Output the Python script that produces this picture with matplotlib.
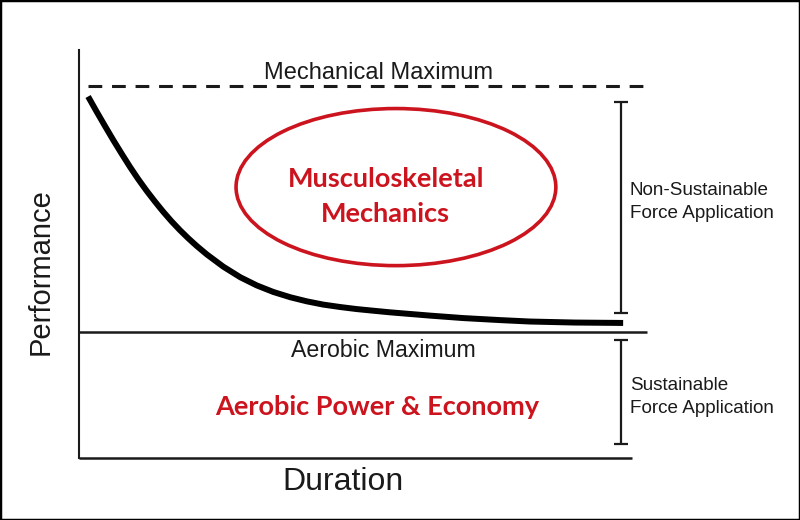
import matplotlib
matplotlib.use("Agg")
import matplotlib.pyplot as plt
from matplotlib.patches import Ellipse, Rectangle

# performance vs duration curve (duration 0-100, performance 0-100)
duration = [1.6, 3.1, 4.6, 6.0, 7.5, 9.0, 10.4, 11.9, 13.4, 14.8, 16.3, 17.8, 19.2,
            20.7, 22.5, 25.4, 28.4, 31.3, 34.2, 37.2, 40.1, 43.0, 46.0, 48.9, 51.8,
            54.8, 61.8, 67.6, 74.1, 79.4, 87.3, 95.8]
performance = [88.6, 84.9, 81.3, 78.0, 74.6, 71.3, 68.4, 65.5, 62.8, 60.4, 58.0, 55.8,
               53.9, 52.0, 49.9, 46.9, 44.3, 42.3, 40.7, 39.4, 38.4, 37.6, 37.0, 36.5,
               36.1, 35.7, 34.9, 34.3, 33.8, 33.45, 33.2, 33.1]

mechanical_max = 91.2
aerobic_max = 31.0

# vertical brackets on the right: (low, high)
bracket_x = 95.4
non_sustainable = (35.5, 87.3)
sustainable = (3.4, 28.9)

RED = "#cc141e"
INK = "#1a1a1a"
SANS = ["Liberation Sans", "DejaVu Sans"]
BOLD = ["Lato", "DejaVu Sans"]

fig = plt.figure(figsize=(8, 5.2), dpi=100)
fig.patches.append(Rectangle((0, 0), 1, 1, transform=fig.transFigure,
                             fill=False, edgecolor="black", linewidth=2.5))

ax = fig.add_axes([79 / 800, 1 - 458 / 520, 568 / 800, 408 / 520])
ax.set_xlim(0, 100)
ax.set_ylim(0, 100)
for side in ["top", "right", "bottom"]:
    ax.spines[side].set_visible(False)
ax.spines["left"].set_linewidth(1.5)
ax.spines["left"].set_color(INK)
ax.set_xticks([])
ax.set_yticks([])

# baseline (x axis) and the two maximum lines
ax.plot([0, 97.4], [0, 0], color=INK, lw=1.8, clip_on=False, solid_capstyle="butt")
ax.plot([0, 100], [aerobic_max, aerobic_max], color=INK, lw=1.8, clip_on=False,
        solid_capstyle="butt")
ax.plot([1.6, 100], [mechanical_max, mechanical_max], color=INK, lw=2.2,
        dashes=(4.5, 3.2), clip_on=False)

ax.plot(duration, performance, color="black", lw=4.3, solid_joinstyle="round",
        solid_capstyle="butt")

for lo, hi in [non_sustainable, sustainable]:
    mid = (lo + hi) / 2
    ax.errorbar([bracket_x], [mid], yerr=[[mid - lo], [hi - mid]], fmt="none",
                ecolor=INK, elinewidth=1.6, capsize=5, capthick=1.6, clip_on=False)

ax.add_patch(Ellipse((55.8, 66.4), 56.3, 38.5, fill=False, edgecolor=RED, lw=2.6))

ax.text(52.8, 92.9, "Mechanical Maximum", ha="center", va="baseline",
        fontsize=17, color=INK, family=SANS)
ax.text(53.5, 24.7, "Aerobic Maximum", ha="center", va="baseline",
        fontsize=16.7, color=INK, family=SANS)
ax.text(54.0, 66.4, "Musculoskeletal", ha="center", va="baseline",
        fontsize=19.5, color=RED, family=BOLD, fontweight="bold")
ax.text(54.0, 57.8, "Mechanics", ha="center", va="baseline",
        fontsize=19.5, color=RED, family=BOLD, fontweight="bold")
ax.text(52.5, 10.5, "Aerobic Power & Economy", ha="center", va="baseline",
        fontsize=19.5, color=RED, family=BOLD, fontweight="bold")

ax.text(97.0, 64.5, "Non-Sustainable", ha="left", va="baseline",
        fontsize=13.6, color=INK, family=SANS, clip_on=False)
ax.text(97.0, 58.8, "Force Application", ha="left", va="baseline",
        fontsize=13.6, color=INK, family=SANS, clip_on=False)
ax.text(97.0, 16.7, "Sustainable", ha="left", va="baseline",
        fontsize=13.6, color=INK, family=SANS, clip_on=False)
ax.text(97.0, 11.0, "Force Application", ha="left", va="baseline",
        fontsize=13.6, color=INK, family=SANS, clip_on=False)

fig.text(343 / 800, 1 - 490 / 520, "Duration", ha="center", va="baseline",
         fontsize=23, color=INK, family=SANS)
fig.text(49 / 800, 1 - 272 / 520, "Performance", ha="center", va="baseline",
         rotation=90, rotation_mode="anchor", fontsize=21, color=INK, family=SANS)

fig.savefig("out.png", dpi=100)
